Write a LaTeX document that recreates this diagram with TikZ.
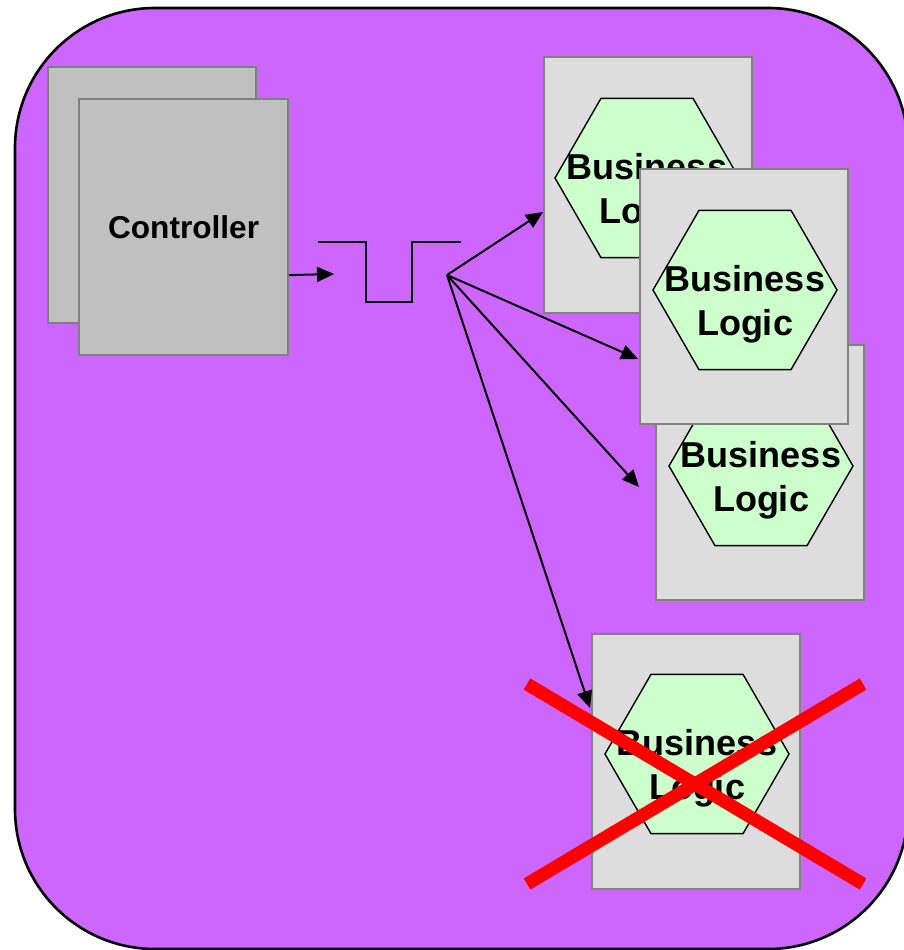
\documentclass[tikz,border=0pt]{standalone}
\usepackage{fontspec}
\setmainfont{Liberation Sans}
\usetikzlibrary{arrows.meta,shapes.geometric}
\definecolor{tierpurple}{HTML}{CC66FF}
\definecolor{ctrlgray}{HTML}{C0C0C0}
\definecolor{boxgray}{HTML}{DDDDDD}
\definecolor{edgegray}{HTML}{808080}
\definecolor{hexgreen}{HTML}{CCFFCC}

\begin{document}
\begin{tikzpicture}[x=1pt,y=-1pt,
  tier/.style={draw=black, fill=tierpurple, line width=2.6pt, rounded corners=140pt},
  ctrlbox/.style={draw=edgegray, fill=ctrlgray, line width=2.2pt, inner sep=0pt,
    minimum width=208pt, minimum height=256pt, anchor=north west},
  blbox/.style={draw=edgegray, fill=boxgray, line width=2.2pt, inner sep=0pt,
    minimum width=208pt, minimum height=255pt, anchor=north west},
  hexa/.style={regular polygon, regular polygon sides=6, minimum size=184pt,
    inner sep=0pt, outer sep=0pt, draw=black, fill=hexgreen, line width=1.4pt},
  bltext/.style={font=\bfseries\fontsize{36}{44}\selectfont, align=center, inner sep=0pt},
  arr/.style={-{Triangle[length=17pt,width=15pt]}, line width=2pt},
  pulse/.style={line width=2pt},
  cross/.style={draw=red, line width=13pt}
]
\useasboundingbox (0,0) rectangle (903,950);

% application tier
\draw[tier] (15,8) rectangle (908,949);

% controllers
\node[ctrlbox] (ctrlback) at (47,66) {};
\node[ctrlbox, minimum width=209pt] (ctrl) at (78,98)
  {\bfseries\fontsize{31.6}{38}\selectfont Controller};

% business logic instances (drawn back to front)
\node[blbox, minimum height=256pt] (box1) at (543,56) {};
\node[hexa] (hx1) at (647,178) {};
\node[bltext] (bl1) at (647,192) {Business\\Logic};

\node[blbox] (box3) at (655,344) {};
\node[hexa] (hx3) at (761,466) {};
\node[bltext] (bl3) at (761,480) {Business\\Logic};

\node[blbox] (box2) at (639,168) {};
\node[hexa] (hx2) at (745,290) {};
\node[bltext] (bl2) at (745,304) {Business\\Logic};

\node[blbox] (box4) at (591,633) {};
\node[hexa] (hx4) at (697,754) {};
\node[bltext] (bl4) at (697,768) {Business\\Logic};

% pool / dispatcher pulse
\draw[pulse] (318,242) -- (366,242) -- (366,302) -- (412,302) -- (412,242) -- (461,242);

% connectors
\coordinate (fan) at (447,275);
\coordinate (ctrlin) at (334,274);
\coordinate (to1) at (543,212);
\coordinate (to2) at (638,359);
\coordinate (to3) at (639,487);
\coordinate (to4) at (590,708);

\draw[arr] ([yshift=-48pt]ctrl.east) -- (ctrlin);
\draw[arr] (fan) -- (to1);
\draw[arr] (fan) -- (to2);
\draw[arr] (fan) -- (to3);
\draw[arr] (fan) -- (to4);

% failed instance
\draw[cross] (527,684) -- (863,884);
\draw[cross] (527,884) -- (863,684);
\end{tikzpicture}
\end{document}
